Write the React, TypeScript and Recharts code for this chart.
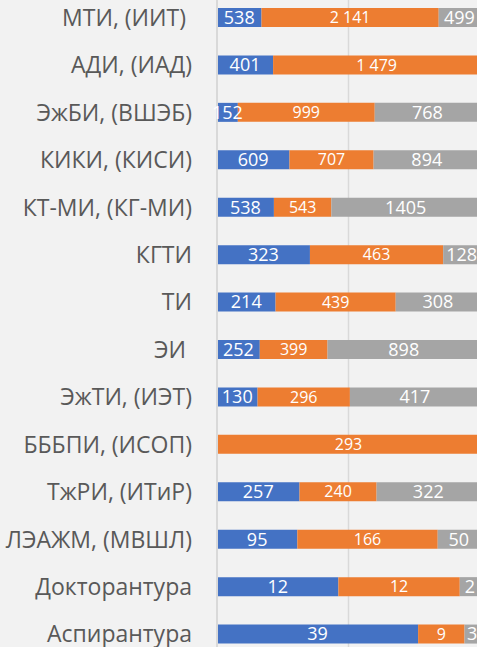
import { BarChart, Bar, XAxis, YAxis, CartesianGrid, LabelList } from "recharts";

const categories = [
  "МТИ, (ИИТ) ",
  "АДИ, (ИАД)",
  "ЭжБИ, (ВШЭБ)",
  "КИКИ, (КИСИ)",
  "КТ-МИ, (КГ-МИ)",
  "КГТИ",
  "ТИ",
  "ЭИ ",
  "ЭжТИ, (ИЭТ)",
  "БББПИ, (ИСОП)",
  "ТжРИ, (ИТиР)",
  "ЛЭАЖМ, (МВШЛ)",
  "Докторантура",
  "Аспирантура",
];
const seriesA = [538, 401, 152, 609, 538, 323, 214, 252, 130, 0, 257, 95, 12, 39];
const seriesB = [2141, 1479, 999, 707, 543, 463, 439, 399, 296, 293, 240, 166, 12, 9];
const seriesC = [499, 0, 768, 894, 1405, 128, 308, 898, 417, 0, 322, 50, 2, 3];
const xTicks = [0, 0.5, 1];

const data = categories.map((name, i) => ({
  name,
  a: seriesA[i],
  b: seriesB[i],
  c: seriesC[i],
}));

const plain = (v: any) => (v ? String(v) : "");
const spaced = (v: any) =>
  v ? String(v).replace(/\B(?=(\d{3})+(?!\d))/g, " ") : "";

const CategoryTick = (props: any) => {
  const { x, y, payload } = props;
  return (
    <text
      x={x}
      y={y}
      dy="0.355em"
      textAnchor="end"
      fill="#595959"
      fontSize={23}
      style={{ whiteSpace: "pre" }}
    >
      {payload.value}
    </text>
  );
};

export default function App() {
  return (
    <div
      style={{
        position: "fixed",
        left: 0,
        top: 0,
        width: 477,
        height: 647,
        overflow: "hidden",
        background: "#f2f2f2",
        fontFamily: "'Open Sans', sans-serif",
      }}
    >
      <div style={{ position: "absolute", left: -60, top: -6 }}>
        <BarChart
          width={540}
          height={664}
          data={data}
          layout="vertical"
          stackOffset="expand"
          margin={{ top: 0, right: 0, bottom: 0, left: 0 }}
        >
          <CartesianGrid horizontal={false} vertical stroke="#d9d9d9" strokeWidth={1.5} />
          <XAxis type="number" domain={[0, 1]} ticks={xTicks} hide />
          <YAxis
            type="category"
            dataKey="name"
            width={277}
            axisLine={{ stroke: "#d9d9d9", strokeWidth: 2 }}
            tickLine={false}
            tickSize={0}
            tickMargin={25}
            tick={<CategoryTick />}
            interval={0}
          />
          <Bar dataKey="a" stackId="s" fill="#4472c4" barSize={19} isAnimationActive={false}>
            <LabelList dataKey="a" position="center" formatter={plain} style={{ fill: "#fff", fontSize: 18 }} />
          </Bar>
          <Bar dataKey="b" stackId="s" fill="#ed7d31" barSize={19} isAnimationActive={false}>
            <LabelList dataKey="b" position="center" formatter={spaced} style={{ fill: "#fff", fontSize: 16 }} />
          </Bar>
          <Bar dataKey="c" stackId="s" fill="#a5a5a5" barSize={19} isAnimationActive={false}>
            <LabelList dataKey="c" position="center" formatter={plain} style={{ fill: "#fff", fontSize: 18 }} />
          </Bar>
        </BarChart>
      </div>
    </div>
  );
}
